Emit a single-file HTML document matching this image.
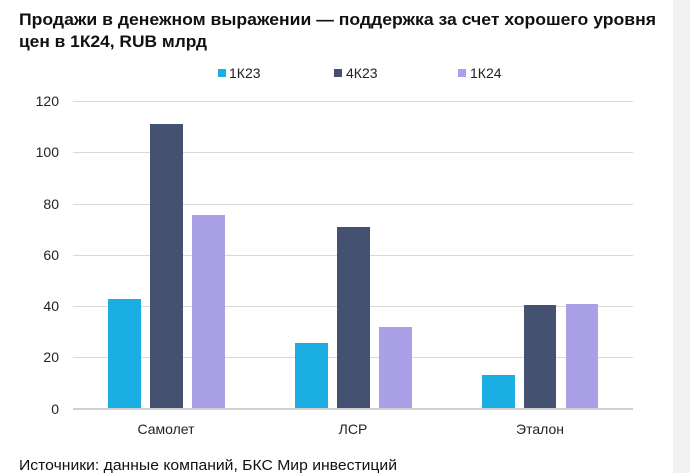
<!DOCTYPE html>
<html><head><meta charset="utf-8"><style>
html,body{margin:0;padding:0;background:#f2f2f2;}
svg{display:block;font-family:"Liberation Sans",sans-serif;}
</style></head><body>
<svg width="690" height="473" viewBox="0 0 690 473">
<rect x="0" y="0" width="690" height="473" fill="#f2f2f2"/>
<rect x="-10" y="-10" width="683" height="493" rx="10" fill="#fff"/>
<text x="19" y="25" font-size="17" font-weight="bold" fill="#111" textLength="637" lengthAdjust="spacingAndGlyphs">Продажи в денежном выражении — поддержка за счет хорошего уровня</text>
<text x="19" y="47" font-size="17" font-weight="bold" fill="#111" textLength="188" lengthAdjust="spacingAndGlyphs">цен в 1К24, RUB млрд</text>
<rect x="218" y="69" width="8" height="8" fill="#1aaee3"/>
<text x="229" y="78" font-size="14" fill="#222">1К23</text>
<rect x="334" y="69" width="8" height="8" fill="#455170"/>
<text x="346" y="78" font-size="14" fill="#222">4К23</text>
<rect x="458" y="69" width="8" height="8" fill="#a9a0e8"/>
<text x="470" y="78" font-size="14" fill="#222">1К24</text>
<g stroke="#d9d9d9" stroke-width="1">
<line x1="73" x2="633" y1="101.5" y2="101.5"/>
<line x1="73" x2="633" y1="152.5" y2="152.5"/>
<line x1="73" x2="633" y1="204.5" y2="204.5"/>
<line x1="73" x2="633" y1="255.5" y2="255.5"/>
<line x1="73" x2="633" y1="306.5" y2="306.5"/>
<line x1="73" x2="633" y1="357.5" y2="357.5"/>
</g>
<g font-size="14" fill="#222" text-anchor="end">
<text x="59" y="106">120</text>
<text x="59" y="157">100</text>
<text x="59" y="209">80</text>
<text x="59" y="260">60</text>
<text x="59" y="311">40</text>
<text x="59" y="362">20</text>
<text x="59" y="414">0</text>
</g>
<g fill="#1aaee3">
<rect x="108" y="299" width="33" height="110"/>
<rect x="295" y="343" width="33" height="66"/>
<rect x="482" y="375" width="33" height="34"/>
</g>
<g fill="#455170">
<rect x="150" y="124" width="33" height="285"/>
<rect x="337" y="227" width="33" height="182"/>
<rect x="524" y="305" width="32" height="104"/>
</g>
<g fill="#a9a0e8">
<rect x="192" y="215" width="33" height="194"/>
<rect x="379" y="327" width="33" height="82"/>
<rect x="566" y="304" width="32" height="105"/>
</g>
<line x1="73" x2="633" y1="409" y2="409" stroke="#d0d0d0" stroke-width="2"/>
<g font-size="14" fill="#222" text-anchor="middle">
<text x="166" y="434">Самолет</text>
<text x="353" y="434">ЛСР</text>
<text x="540" y="434">Эталон</text>
</g>
<text x="19" y="470" font-size="14.5" fill="#111" textLength="378" lengthAdjust="spacingAndGlyphs">Источники: данные компаний, БКС Мир инвестиций</text>
</svg>
</body></html>
